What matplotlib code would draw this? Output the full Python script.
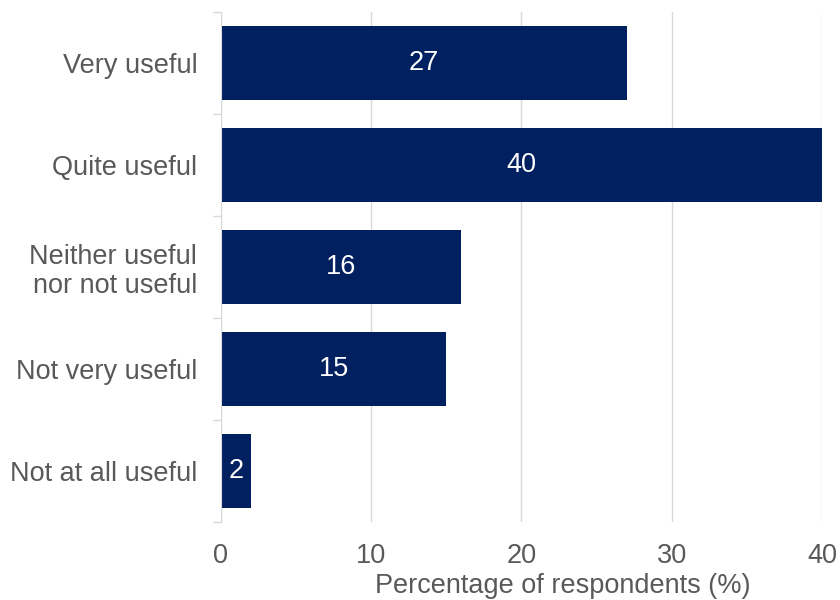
import numpy as np
import matplotlib.pyplot as plt
from matplotlib.ticker import FixedLocator

plt.rcParams['font.family'] = ['Liberation Sans', 'DejaVu Sans']

categories = ["Very useful", "Quite useful", "Neither useful\nnor not useful",
              "Not very useful", "Not at all useful"]
values = [27, 40, 16, 15, 2]
xticks = [0, 10, 20, 30, 40]

navy = "#002060"
text_grey = "#595959"
line_grey = "#d9d9d9"

fig = plt.figure(figsize=(8.4, 6), dpi=100)
ax = fig.add_axes([0.263, 0.13, 0.9786 - 0.263, 0.85])

y = np.arange(len(categories))
ax.barh(y, values, height=0.73, color=navy, zorder=3)

for yi, v in zip(y, values):
    ax.text(v / 2, yi, str(v), ha="center", va="center", color="white",
            fontsize=19.5, zorder=4)

ax.set_xlim(0, 40)
ax.set_ylim(len(categories) - 0.5, -0.5)
ax.set_xticks(xticks)
ax.set_yticks(y)
ax.set_yticklabels(categories, ha="right", linespacing=1.15)
ax.yaxis.set_minor_locator(FixedLocator(np.arange(-0.5, len(categories), 1)))

ax.tick_params(axis="y", which="major", length=0, pad=17, labelsize=19.5,
               labelcolor=text_grey)
ax.tick_params(axis="y", which="minor", length=6, color=line_grey, width=1)
ax.tick_params(axis="x", length=0, pad=15, labelsize=19.5, labelcolor=text_grey)

ax.grid(axis="x", color=line_grey, linewidth=1, zorder=0)
for side in ["top", "right", "bottom"]:
    ax.spines[side].set_visible(False)
ax.spines["left"].set_color(line_grey)
ax.spines["left"].set_zorder(5)

ax.set_xlabel("Percentage of respondents (%)", fontsize=19.5, color=text_grey)
ax.xaxis.set_label_coords(0.569, -0.1)

fig.savefig("out.png", dpi=100)
